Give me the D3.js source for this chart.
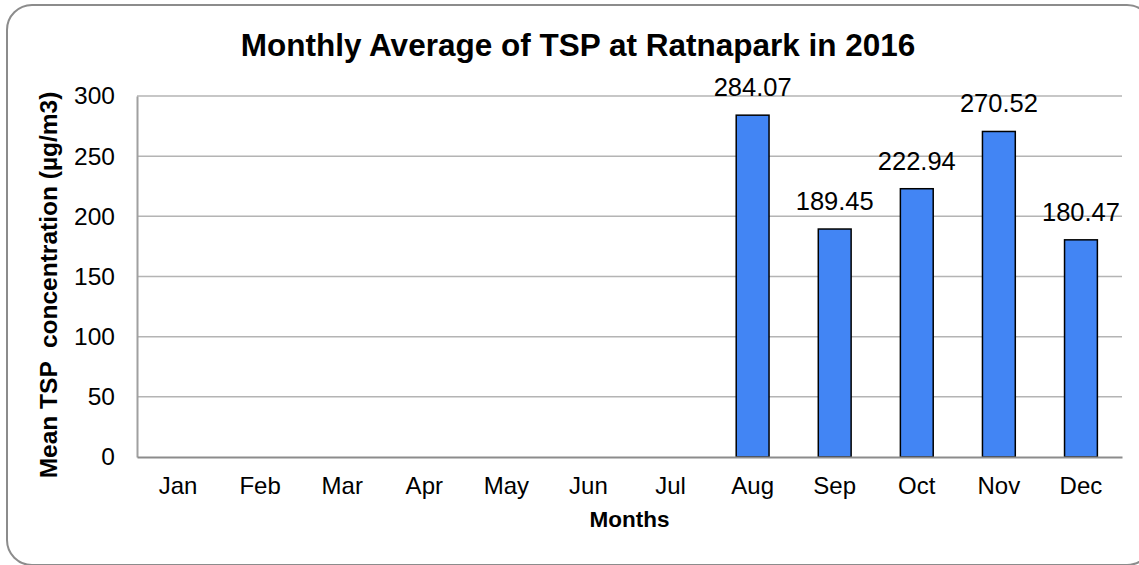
<!DOCTYPE html>
<head>
  <meta charset="utf-8">
  <title>TSP Ratnapark 2016</title>
  <script src="https://d3js.org/d3.v7.min.js"></script>
  <style>
    body { margin:0; background:#fff; }
    svg { display:block; font-family: Arial, "Liberation Sans", sans-serif; }
  </style>
</head>
<body>
  <svg width="1139" height="565"></svg>
  <script>
    // data
    var months = ['Jan','Feb','Mar','Apr','May','Jun','Jul','Aug','Sep','Oct','Nov','Dec'];
    var tsp = [null, null, null, null, null, null, null, 284.07, 189.45, 222.94, 270.52, 180.47];
    var yTicks = [0, 50, 100, 150, 200, 250, 300];

    var width = 1139, height = 565;
    var margin = {top: 96, right: 17, bottom: 108, left: 137};

    var svg = d3.select('svg');

    // outer rounded frame
    svg.append('rect')
      .attr('x', 7).attr('y', 5)
      .attr('width', 1145).attr('height', 560)
      .attr('rx', 25)
      .attr('fill', '#fff')
      .attr('stroke', '#8c8c8c')
      .attr('stroke-width', 2);

    var xScale = d3.scaleBand()
      .domain(months)
      .range([margin.left, width - margin.right])
      .paddingInner(0.6)
      .paddingOuter(0.3);
    var yScale = d3.scaleLinear()
      .domain([0, 300])
      .range([height - margin.bottom, margin.top]);

    // gridlines
    svg.append('g')
      .selectAll('line')
      .data(yTicks.filter(d => d > 0))
      .enter().append('line')
      .attr('x1', margin.left).attr('x2', width - margin.right)
      .attr('y1', d => yScale(d)).attr('y2', d => yScale(d))
      .attr('stroke', '#b4b4b4')
      .attr('stroke-width', 1.5);

    // y axis
    var yAxis = d3.axisLeft(yScale).tickValues(yTicks).tickSize(0).tickPadding(22);
    var gy = svg.append('g')
      .attr('transform', 'translate(' + [margin.left, 0] + ')')
      .call(yAxis);
    gy.select('.domain').attr('stroke', '#a0a0a0').attr('stroke-width', 2);
    gy.selectAll('text').attr('font-size', 24.5).attr('fill', '#000')
      .attr('font-family', 'Arial, "Liberation Sans", sans-serif');

    // bars
    var barData = months.map((m, i) => ({month: m, value: tsp[i]})).filter(d => d.value != null);
    svg.append('g')
      .selectAll('rect')
      .data(barData)
      .enter().append('rect')
      .attr('x', d => xScale(d.month))
      .attr('width', xScale.bandwidth())
      .attr('y', d => yScale(d.value))
      .attr('height', d => yScale(0) - yScale(d.value))
      .attr('fill', '#4285f4')
      .attr('stroke', '#000')
      .attr('stroke-width', 1.5);

    // value labels
    svg.append('g')
      .selectAll('text')
      .data(barData)
      .enter().append('text')
      .attr('x', d => xScale(d.month) + xScale.bandwidth() / 2)
      .attr('y', d => yScale(d.value) - 19)
      .attr('text-anchor', 'middle')
      .attr('font-size', 25.5)
      .attr('fill', '#000')
      .text(d => d.value.toFixed(2));

    // x axis
    var xAxis = d3.axisBottom(xScale).tickSize(0).tickPadding(20);
    var gx = svg.append('g')
      .attr('transform', 'translate(' + [0, height - margin.bottom] + ')')
      .call(xAxis);
    gx.select('.domain').attr('stroke', '#8c8c8c').attr('stroke-width', 2);
    gx.selectAll('text').attr('font-size', 24).attr('fill', '#000')
      .attr('font-family', 'Arial, "Liberation Sans", sans-serif');

    // titles
    svg.append('text')
      .attr('x', 578).attr('y', 56)
      .attr('text-anchor', 'middle')
      .attr('font-size', 31.5)
      .attr('font-weight', 'bold')
      .text('Monthly Average of TSP at Ratnapark in 2016');

    svg.append('text')
      .attr('x', (margin.left + width - margin.right) / 2).attr('y', 527)
      .attr('text-anchor', 'middle')
      .attr('font-size', 22.5)
      .attr('font-weight', 'bold')
      .text('Months');

    svg.append('text')
      .attr('transform', 'translate(57,285) rotate(-90)')
      .attr('text-anchor', 'middle')
      .attr('font-size', 24.5)
      .attr('font-weight', 'bold')
      .style('white-space', 'pre')
      .text('Mean TSP  concentration (µg/m3)');
  </script>
</body>
